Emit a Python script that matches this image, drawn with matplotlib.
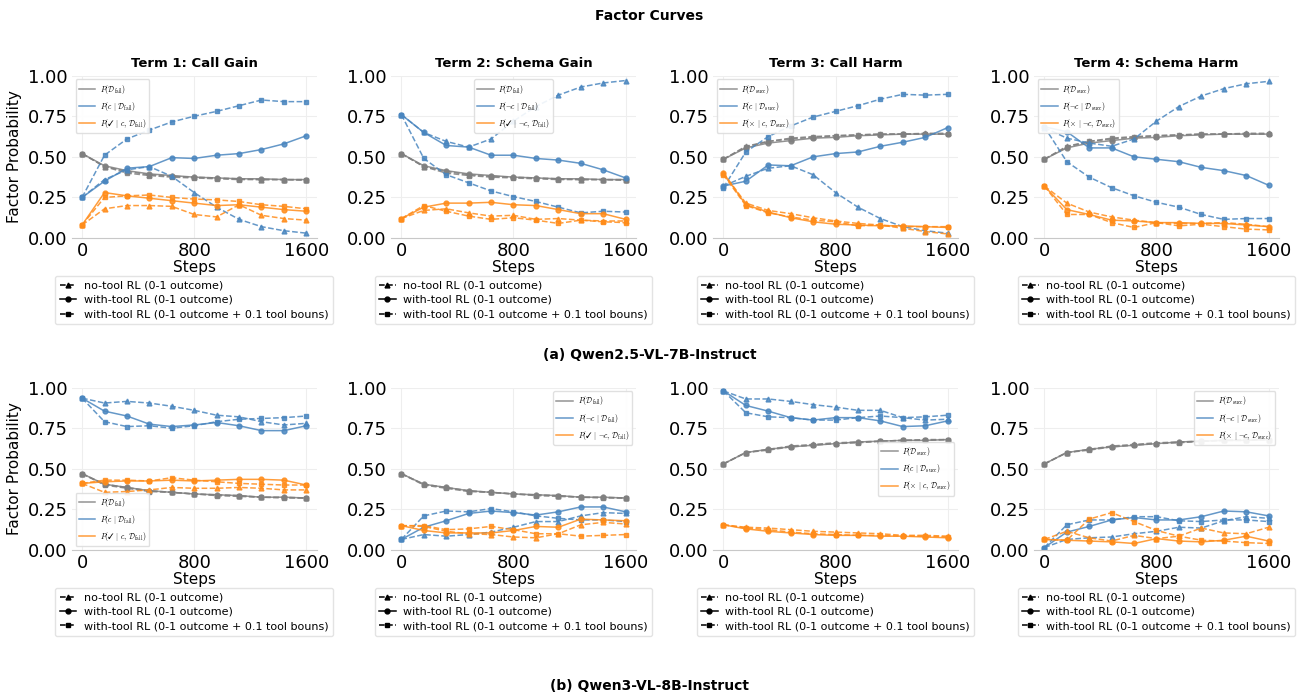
import numpy as np
import matplotlib.pyplot as plt
from matplotlib.lines import Line2D

plt.rcParams['mathtext.fontset'] = 'cm'

steps = [0, 160, 320, 480, 640, 800, 960, 1120, 1280, 1440, 1600]

# ---- Qwen2.5-VL-7B-Instruct ----
# P(D_fail)
q25_dfail_notool = [0.52, 0.44, 0.41, 0.39, 0.38, 0.375, 0.37, 0.365, 0.36, 0.36, 0.36]
q25_dfail_tool = [0.52, 0.445, 0.415, 0.395, 0.385, 0.375, 0.37, 0.365, 0.365, 0.36, 0.36]
q25_dfail_bonus = [0.52, 0.44, 0.40, 0.385, 0.375, 0.37, 0.365, 0.36, 0.36, 0.36, 0.355]
# P(D_succ)
q25_dsucc_notool = [0.485, 0.565, 0.595, 0.61, 0.62, 0.63, 0.635, 0.64, 0.64, 0.645, 0.645]
q25_dsucc_tool = [0.485, 0.555, 0.585, 0.60, 0.615, 0.62, 0.63, 0.635, 0.64, 0.64, 0.64]
q25_dsucc_bonus = [0.485, 0.56, 0.595, 0.615, 0.625, 0.63, 0.635, 0.64, 0.64, 0.64, 0.64]

# term 1: P(c|D_fail), P(ok|c,D_fail)
q25_t1_call_notool = [0.25, 0.36, 0.42, 0.44, 0.38, 0.28, 0.19, 0.115, 0.07, 0.045, 0.03]
q25_t1_call_tool = [0.25, 0.35, 0.43, 0.44, 0.495, 0.49, 0.51, 0.52, 0.545, 0.58, 0.63]
q25_t1_call_bonus = [0.25, 0.51, 0.61, 0.665, 0.715, 0.75, 0.78, 0.815, 0.85, 0.84, 0.84]
q25_t1_ok_notool = [0.08, 0.18, 0.20, 0.20, 0.195, 0.145, 0.13, 0.205, 0.14, 0.12, 0.11]
q25_t1_ok_tool = [0.08, 0.28, 0.26, 0.245, 0.23, 0.215, 0.20, 0.205, 0.19, 0.175, 0.165]
q25_t1_ok_bonus = [0.08, 0.25, 0.26, 0.265, 0.25, 0.24, 0.235, 0.225, 0.205, 0.195, 0.18]

# term 2: P(not c|D_fail), P(ok|not c,D_fail)
q25_t2_skip_notool = [0.76, 0.65, 0.595, 0.56, 0.61, 0.72, 0.81, 0.88, 0.93, 0.955, 0.97]
q25_t2_skip_tool = [0.76, 0.65, 0.57, 0.56, 0.51, 0.51, 0.49, 0.48, 0.46, 0.42, 0.37]
q25_t2_skip_bonus = [0.76, 0.49, 0.39, 0.34, 0.29, 0.255, 0.225, 0.19, 0.155, 0.165, 0.16]
q25_t2_ok_notool = [0.12, 0.17, 0.18, 0.155, 0.135, 0.14, 0.115, 0.12, 0.11, 0.105, 0.105]
q25_t2_ok_tool = [0.12, 0.19, 0.215, 0.215, 0.22, 0.205, 0.20, 0.175, 0.15, 0.15, 0.115]
q25_t2_ok_bonus = [0.12, 0.20, 0.165, 0.135, 0.115, 0.125, 0.11, 0.09, 0.11, 0.10, 0.095]

# term 3: P(c|D_succ), P(x|c,D_succ)
q25_t3_call_notool = [0.32, 0.38, 0.43, 0.445, 0.39, 0.28, 0.19, 0.12, 0.07, 0.045, 0.03]
q25_t3_call_tool = [0.32, 0.35, 0.45, 0.445, 0.50, 0.52, 0.53, 0.565, 0.59, 0.62, 0.68]
q25_t3_call_bonus = [0.31, 0.53, 0.625, 0.69, 0.745, 0.78, 0.815, 0.855, 0.885, 0.88, 0.885]
q25_t3_bad_notool = [0.40, 0.215, 0.17, 0.15, 0.125, 0.105, 0.09, 0.08, 0.06, 0.04, 0.025]
q25_t3_bad_tool = [0.40, 0.205, 0.16, 0.125, 0.10, 0.085, 0.08, 0.075, 0.075, 0.07, 0.065]
q25_t3_bad_bonus = [0.39, 0.20, 0.155, 0.13, 0.11, 0.10, 0.075, 0.08, 0.07, 0.07, 0.07]

# term 4: P(not c|D_succ), P(x|not c,D_succ)
q25_t4_skip_notool = [0.68, 0.615, 0.585, 0.565, 0.61, 0.72, 0.81, 0.875, 0.92, 0.95, 0.965]
q25_t4_skip_tool = [0.685, 0.655, 0.555, 0.555, 0.50, 0.485, 0.47, 0.435, 0.415, 0.385, 0.325]
q25_t4_skip_bonus = [0.685, 0.47, 0.375, 0.31, 0.26, 0.22, 0.19, 0.145, 0.115, 0.12, 0.12]
q25_t4_bad_notool = [0.32, 0.215, 0.16, 0.13, 0.11, 0.095, 0.09, 0.09, 0.095, 0.085, 0.07]
q25_t4_bad_tool = [0.32, 0.175, 0.145, 0.11, 0.105, 0.095, 0.095, 0.09, 0.09, 0.08, 0.07]
q25_t4_bad_bonus = [0.32, 0.145, 0.145, 0.095, 0.065, 0.095, 0.075, 0.085, 0.07, 0.055, 0.05]

# ---- Qwen3-VL-8B-Instruct ----
q3_dfail_notool = [0.47, 0.405, 0.385, 0.365, 0.355, 0.345, 0.34, 0.335, 0.325, 0.325, 0.32]
q3_dfail_tool = [0.47, 0.405, 0.385, 0.365, 0.355, 0.345, 0.34, 0.335, 0.325, 0.325, 0.32]
q3_dfail_bonus = [0.47, 0.40, 0.38, 0.36, 0.355, 0.345, 0.335, 0.33, 0.325, 0.32, 0.32]
q3_dsucc_notool = [0.53, 0.60, 0.62, 0.64, 0.65, 0.66, 0.665, 0.67, 0.675, 0.68, 0.68]
q3_dsucc_tool = [0.53, 0.60, 0.62, 0.635, 0.645, 0.655, 0.665, 0.67, 0.675, 0.675, 0.68]
q3_dsucc_bonus = [0.53, 0.60, 0.615, 0.635, 0.645, 0.655, 0.66, 0.67, 0.675, 0.675, 0.68]

q3_t1_call_notool = [0.935, 0.905, 0.915, 0.905, 0.885, 0.86, 0.83, 0.82, 0.79, 0.77, 0.78]
q3_t1_call_tool = [0.935, 0.855, 0.825, 0.775, 0.76, 0.77, 0.785, 0.765, 0.735, 0.735, 0.765]
q3_t1_call_bonus = [0.935, 0.79, 0.76, 0.765, 0.75, 0.765, 0.79, 0.805, 0.81, 0.815, 0.825]
q3_t1_ok_notool = [0.41, 0.355, 0.36, 0.37, 0.385, 0.38, 0.38, 0.385, 0.38, 0.37, 0.37]
q3_t1_ok_tool = [0.41, 0.42, 0.425, 0.425, 0.43, 0.425, 0.43, 0.435, 0.435, 0.43, 0.40]
q3_t1_ok_bonus = [0.41, 0.43, 0.43, 0.425, 0.445, 0.43, 0.42, 0.41, 0.405, 0.40, 0.40]

q3_t2_skip_notool = [0.065, 0.095, 0.085, 0.095, 0.11, 0.14, 0.175, 0.175, 0.21, 0.23, 0.225]
q3_t2_skip_tool = [0.065, 0.14, 0.18, 0.225, 0.24, 0.23, 0.215, 0.235, 0.265, 0.265, 0.235]
q3_t2_skip_bonus = [0.065, 0.21, 0.24, 0.235, 0.255, 0.235, 0.21, 0.195, 0.185, 0.185, 0.175]
q3_t2_ok_notool = [0.15, 0.145, 0.115, 0.10, 0.095, 0.08, 0.075, 0.10, 0.155, 0.17, 0.16]
q3_t2_ok_tool = [0.15, 0.12, 0.105, 0.105, 0.105, 0.12, 0.145, 0.14, 0.19, 0.185, 0.18]
q3_t2_ok_bonus = [0.15, 0.15, 0.125, 0.13, 0.145, 0.125, 0.10, 0.10, 0.085, 0.09, 0.095]

q3_t3_call_notool = [0.98, 0.93, 0.93, 0.915, 0.895, 0.88, 0.86, 0.86, 0.815, 0.80, 0.805]
q3_t3_call_tool = [0.98, 0.89, 0.855, 0.815, 0.80, 0.815, 0.815, 0.795, 0.76, 0.765, 0.795]
q3_t3_call_bonus = [0.98, 0.845, 0.82, 0.815, 0.80, 0.80, 0.815, 0.825, 0.815, 0.82, 0.83]
q3_t3_bad_notool = [0.155, 0.14, 0.135, 0.125, 0.115, 0.11, 0.105, 0.10, 0.09, 0.09, 0.085]
q3_t3_bad_tool = [0.155, 0.13, 0.115, 0.105, 0.095, 0.09, 0.09, 0.085, 0.085, 0.08, 0.075]
q3_t3_bad_bonus = [0.155, 0.135, 0.125, 0.11, 0.10, 0.095, 0.09, 0.09, 0.085, 0.085, 0.08]

q3_t4_skip_notool = [0.015, 0.065, 0.075, 0.08, 0.10, 0.115, 0.14, 0.135, 0.18, 0.205, 0.195]
q3_t4_skip_tool = [0.015, 0.11, 0.145, 0.185, 0.20, 0.185, 0.185, 0.205, 0.24, 0.235, 0.21]
q3_t4_skip_bonus = [0.015, 0.155, 0.185, 0.185, 0.205, 0.205, 0.18, 0.175, 0.185, 0.185, 0.175]
q3_t4_bad_notool = [0.065, 0.115, 0.075, 0.055, 0.09, 0.07, 0.085, 0.135, 0.105, 0.10, 0.14]
q3_t4_bad_tool = [0.065, 0.06, 0.055, 0.05, 0.04, 0.07, 0.055, 0.05, 0.06, 0.085, 0.055]
q3_t4_bad_bonus = [0.065, 0.06, 0.19, 0.23, 0.175, 0.12, 0.085, 0.06, 0.055, 0.045, 0.04]

titles = ['Term 1: Call Gain', 'Term 2: Schema Gain', 'Term 3: Call Harm', 'Term 4: Schema Harm']
methods = ['no-tool RL (0-1 outcome)', 'with-tool RL (0-1 outcome)',
           'with-tool RL (0-1 outcome + 0.1 tool bouns)']

fail_labels = [r'$P(\mathcal{D}_{\rm fail})$', r'$P(c\ |\ \mathcal{D}_{\rm fail})$',
               r'$P(\checkmark\ |\ c,\, \mathcal{D}_{\rm fail})$']
fail_neg_labels = [r'$P(\mathcal{D}_{\rm fail})$', r'$P(\neg c\ |\ \mathcal{D}_{\rm fail})$',
                   r'$P(\checkmark\ |\ \neg c,\, \mathcal{D}_{\rm fail})$']
succ_labels = [r'$P(\mathcal{D}_{\rm succ})$', r'$P(c\ |\ \mathcal{D}_{\rm succ})$',
               r'$P(\times\ |\ c,\, \mathcal{D}_{\rm succ})$']
succ_neg_labels = [r'$P(\mathcal{D}_{\rm succ})$', r'$P(\neg c\ |\ \mathcal{D}_{\rm succ})$',
                   r'$P(\times\ |\ \neg c,\, \mathcal{D}_{\rm succ})$']

# (gray, blue, orange) series per panel, each as (no-tool, tool, bonus)
panels = [
    [((q25_dfail_notool, q25_dfail_tool, q25_dfail_bonus),
      (q25_t1_call_notool, q25_t1_call_tool, q25_t1_call_bonus),
      (q25_t1_ok_notool, q25_t1_ok_tool, q25_t1_ok_bonus), fail_labels, 'upper left'),
     ((q25_dfail_notool, q25_dfail_tool, q25_dfail_bonus),
      (q25_t2_skip_notool, q25_t2_skip_tool, q25_t2_skip_bonus),
      (q25_t2_ok_notool, q25_t2_ok_tool, q25_t2_ok_bonus), fail_neg_labels, 'upper center'),
     ((q25_dsucc_notool, q25_dsucc_tool, q25_dsucc_bonus),
      (q25_t3_call_notool, q25_t3_call_tool, q25_t3_call_bonus),
      (q25_t3_bad_notool, q25_t3_bad_tool, q25_t3_bad_bonus), succ_labels, 'upper left'),
     ((q25_dsucc_notool, q25_dsucc_tool, q25_dsucc_bonus),
      (q25_t4_skip_notool, q25_t4_skip_tool, q25_t4_skip_bonus),
      (q25_t4_bad_notool, q25_t4_bad_tool, q25_t4_bad_bonus), succ_neg_labels, 'upper left')],
    [((q3_dfail_notool, q3_dfail_tool, q3_dfail_bonus),
      (q3_t1_call_notool, q3_t1_call_tool, q3_t1_call_bonus),
      (q3_t1_ok_notool, q3_t1_ok_tool, q3_t1_ok_bonus), fail_labels, 'lower left'),
     ((q3_dfail_notool, q3_dfail_tool, q3_dfail_bonus),
      (q3_t2_skip_notool, q3_t2_skip_tool, q3_t2_skip_bonus),
      (q3_t2_ok_notool, q3_t2_ok_tool, q3_t2_ok_bonus), fail_neg_labels, 'upper right'),
     ((q3_dsucc_notool, q3_dsucc_tool, q3_dsucc_bonus),
      (q3_t3_call_notool, q3_t3_call_tool, q3_t3_call_bonus),
      (q3_t3_bad_notool, q3_t3_bad_tool, q3_t3_bad_bonus), succ_labels, 'center right'),
     ((q3_dsucc_notool, q3_dsucc_tool, q3_dsucc_bonus),
      (q3_t4_skip_notool, q3_t4_skip_tool, q3_t4_skip_bonus),
      (q3_t4_bad_notool, q3_t4_bad_tool, q3_t4_bad_bonus), succ_neg_labels, 'upper right')],
]

colors = ['#808080', '#4a86bf', '#ff8c1a']
styles = [('--', '^'), ('-', 'o'), ('--', 's')]

fig = plt.figure(figsize=(12.99, 6.96), dpi=100)
lefts = [0.0552, 0.3010, 0.5489, 0.7960]
bottoms = [0.658, 0.2098]
W, H = 0.1886, 0.2333

for rr in range(2):
    for cc in range(4):
        ax = fig.add_axes([lefts[cc], bottoms[rr], W, H])
        gray, blue, orange, labels, loc = panels[rr][cc]
        for group, col in zip((gray, blue, orange), colors):
            for series, (ls, mk) in zip(group, styles):
                ax.plot(steps, series, linestyle=ls, marker=mk, color=col,
                        lw=1.1, ms=3.5, alpha=0.85)
        ax.set_xlim(-74, 1674)
        ax.set_ylim(0, 1.0)
        ax.set_xticks([0, 800, 1600])
        ax.set_yticks([0, 0.25, 0.5, 0.75, 1.0])
        ax.tick_params(labelsize=13, length=0, pad=3)
        ax.grid(color='#eeeeee', lw=0.8)
        ax.set_axisbelow(True)
        for side in ['top', 'right', 'left']:
            ax.spines[side].set_visible(False)
        ax.spines['bottom'].set_color('#c8c8c8')
        ax.set_xlabel('Steps', fontsize=11, labelpad=0)
        if cc == 0:
            ax.set_ylabel('Factor Probability', fontsize=11)
        if rr == 0:
            ax.set_title(titles[cc], fontsize=9.5, fontweight='bold')

        inner = [Line2D([], [], color=c, lw=1.1, alpha=0.85) for c in colors]
        leg1 = ax.legend(inner, labels, loc=loc, fontsize=5.5, handlelength=2.2,
                         frameon=True, framealpha=0.9, edgecolor='#dddddd',
                         borderpad=0.4, labelspacing=0.55, handletextpad=0.6)
        ax.add_artist(leg1)

        outer = [Line2D([], [], color='black', linestyle=ls, marker=mk, ms=3.5, lw=1.1)
                 for ls, mk in styles]
        ax.legend(outer, methods, loc='upper center', bbox_to_anchor=(0.5, -0.2),
                  fontsize=8, handlelength=1.5, frameon=True, edgecolor='#dddddd',
                  borderpad=0.4, labelspacing=0.4, handletextpad=0.7)

fig.text(0.5, 0.977, 'Factor Curves', ha='center', va='center', fontsize=10, fontweight='bold')
fig.text(0.5, 0.49, '(a) Qwen2.5-VL-7B-Instruct', ha='center', va='center',
         fontsize=10, fontweight='bold')
fig.text(0.5, 0.0144, '(b) Qwen3-VL-8B-Instruct', ha='center', va='center',
         fontsize=10, fontweight='bold')

fig.savefig('out.png', dpi=100)
